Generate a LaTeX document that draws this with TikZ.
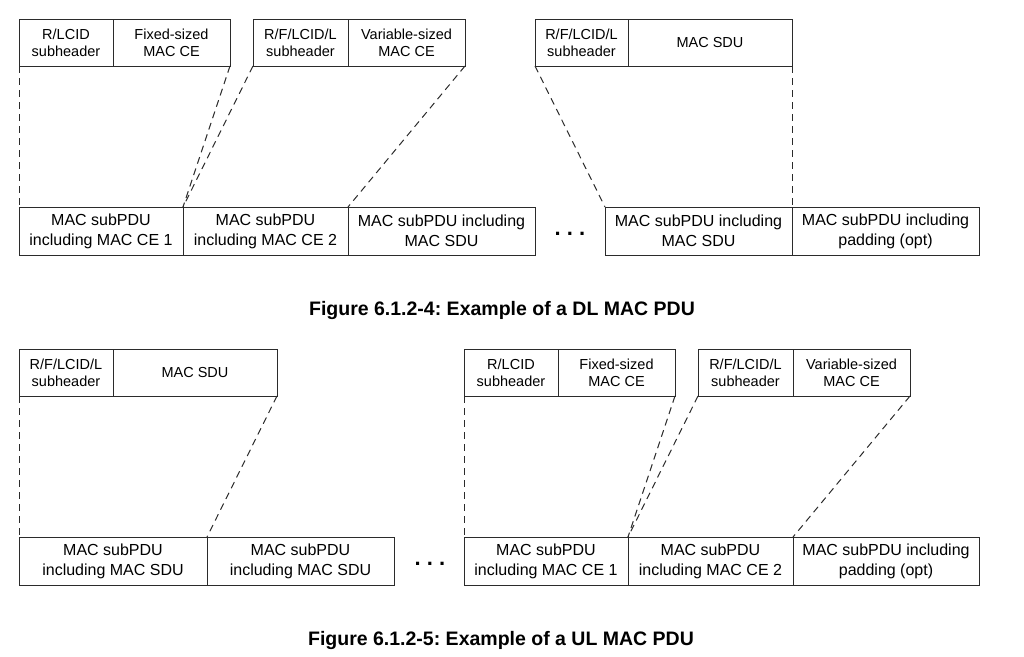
\documentclass[tikz,border=0pt]{standalone}
\usepackage{fontspec}
\setmainfont{Liberation Sans}
\usetikzlibrary{positioning}
\definecolor{LineClr}{HTML}{2b2b2b}
\frenchspacing

\begin{document}
\begin{tikzpicture}[x=1pt,y=-1pt,
  hdr/.style={draw=LineClr,line width=0.9pt,minimum height=47pt,inner sep=0pt,outer sep=0pt,
    align=center,font=\fontsize{14.5}{17}\selectfont},
  pdu/.style={draw=LineClr,line width=0.9pt,minimum height=48pt,inner sep=0pt,outer sep=0pt,
    align=center,font=\fontsize{16}{20}\selectfont},
  cut/.style={LineClr,line width=1pt,dash pattern=on 7pt off 5pt},
  etc/.style={font=\fontsize{22}{22}\bfseries\selectfont,inner sep=0pt},
  capt/.style={anchor=base,font=\fontsize{19.5}{22}\bfseries\selectfont}]
\useasboundingbox (0,0) rectangle (1024,656);

% DL MAC PDU
\node[hdr,minimum width=94pt,anchor=north west] (dlA1) at (19,19) {R/LCID\\subheader};
\node[hdr,minimum width=117pt,right=0pt of dlA1] (dlA2) {Fixed-sized\\MAC CE};
\node[hdr,minimum width=95pt,anchor=north west] (dlB1) at (253,19) {R/F/LCID/L\\subheader};
\node[hdr,minimum width=117pt,right=0pt of dlB1] (dlB2) {Variable-sized\\MAC CE};
\node[hdr,minimum width=93pt,anchor=north west] (dlC1) at (535,19) {R/F/LCID/L\\subheader};
\node[hdr,minimum width=164pt,right=0pt of dlC1] (dlC2) {MAC SDU};

\node[pdu,minimum width=164pt,anchor=north west] (dl1) at (19,207) {MAC subPDU\\including MAC CE 1};
\node[pdu,minimum width=165pt,right=0pt of dl1] (dl2) {MAC subPDU\\including MAC CE 2};
\node[pdu,minimum width=187pt,right=0pt of dl2] (dl3) {MAC subPDU including\\MAC SDU};
\node[etc] (dldots) at (570,234) {. . .};
\node[pdu,minimum width=187pt,anchor=north west] (dl4) at (605,207) {MAC subPDU including\\MAC SDU};
\node[pdu,minimum width=187pt,right=0pt of dl4] (dl5) {MAC subPDU including\\padding (opt)};

\draw[cut] (dlA1.south west) -- (dl1.north west);
\draw[cut] (dlA2.south east) -- (dl1.north east);
\draw[cut] (dlB1.south west) -- (dl1.north east);
\draw[cut] (dlB2.south east) -- (dl2.north east);
\draw[cut] (dlC1.south west) -- (dl4.north west);
\draw[cut] (dlC2.south east) -- (dl4.north east);

\node[capt] (dlcap) at (502,315) {Figure 6.1.2-4: Example of a DL MAC PDU};

% UL MAC PDU
\node[hdr,minimum width=94pt,anchor=north west] (ulA1) at (19,349) {R/F/LCID/L\\subheader};
\node[hdr,minimum width=164pt,right=0pt of ulA1] (ulA2) {MAC SDU};
\node[hdr,minimum width=94pt,anchor=north west] (ulB1) at (464,349) {R/LCID\\subheader};
\node[hdr,minimum width=117pt,right=0pt of ulB1] (ulB2) {Fixed-sized\\MAC CE};
\node[hdr,minimum width=95pt,anchor=north west] (ulC1) at (698,349) {R/F/LCID/L\\subheader};
\node[hdr,minimum width=117pt,right=0pt of ulC1] (ulC2) {Variable-sized\\MAC CE};

\node[pdu,minimum width=188pt,anchor=north west] (ul1) at (19,537) {MAC subPDU\\including MAC SDU};
\node[pdu,minimum width=187pt,right=0pt of ul1] (ul2) {MAC subPDU\\including MAC SDU};
\node[etc] (uldots) at (430,564) {. . .};
\node[pdu,minimum width=164pt,anchor=north west] (ul3) at (464,537) {MAC subPDU\\including MAC CE 1};
\node[pdu,minimum width=165pt,right=0pt of ul3] (ul4) {MAC subPDU\\including MAC CE 2};
\node[pdu,minimum width=186pt,right=0pt of ul4] (ul5) {MAC subPDU including\\padding (opt)};

\draw[cut] (ulA1.south west) -- (ul1.north west);
\draw[cut] (ulA2.south east) -- (ul1.north east);
\draw[cut] (ulB1.south west) -- (ul3.north west);
\draw[cut] (ulB2.south east) -- (ul3.north east);
\draw[cut] (ulC1.south west) -- (ul3.north east);
\draw[cut] (ulC2.south east) -- (ul4.north east);

\node[capt] (ulcap) at (501,645) {Figure 6.1.2-5: Example of a UL MAC PDU};
\end{tikzpicture}
\end{document}
